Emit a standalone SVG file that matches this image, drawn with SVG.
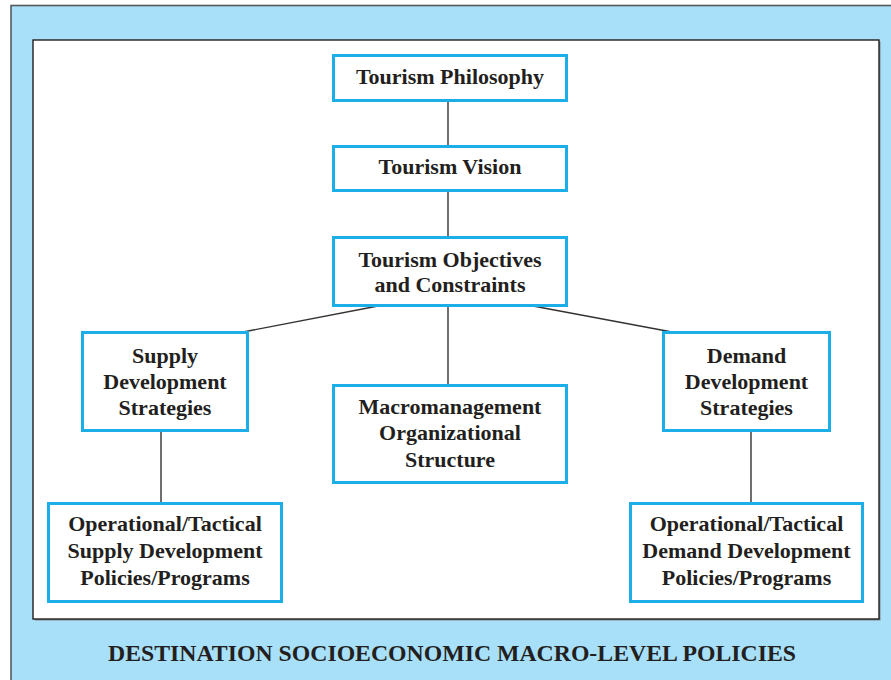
<svg xmlns="http://www.w3.org/2000/svg" width="891" height="680" viewBox="0 0 891 680">
<style>
.box{fill:#ffffff;stroke:#1BAEE8;stroke-width:3}
.t{font-family:'Liberation Serif','DejaVu Serif',serif;font-weight:bold;font-size:22px;fill:#231F20;text-anchor:middle}
.c{stroke:#333333;stroke-width:1.4;fill:none}
</style>
<rect x="11" y="5.5" width="890" height="690" fill="#A8DFF9" stroke="#58595B" stroke-width="1.6"/>
<rect x="34.5" y="41.5" width="846" height="579" fill="#7f8a90"/>
<rect x="33" y="40" width="846" height="579" fill="#ffffff" stroke="#231F20" stroke-width="1.4"/>
<g id="connectors">
<line class="c" x1="448" y1="101" x2="448" y2="146"/>
<line class="c" x1="448" y1="191" x2="448" y2="237"/>
<line class="c" x1="448" y1="306" x2="448" y2="385"/>
<line class="c" x1="378" y1="306" x2="243" y2="332"/>
<line class="c" x1="533" y1="306" x2="672" y2="332"/>
<line class="c" x1="161" y1="431" x2="161" y2="503"/>
<line class="c" x1="751" y1="431" x2="751" y2="503"/>
</g>
<g id="philosophy">
<rect class="box" x="333.5" y="55.5" width="233" height="45"/>
<text class="t" x="450" y="84">Tourism Philosophy</text>
</g>
<g id="vision">
<rect class="box" x="333.5" y="146.5" width="233" height="44"/>
<text class="t" x="450" y="174">Tourism Vision</text>
</g>
<g id="objectives">
<rect class="box" x="333.5" y="237.5" width="233" height="68"/>
<text class="t" x="450" y="266.5">Tourism Objectives</text>
<text class="t" x="450" y="291.5">and Constraints</text>
</g>
<g id="supply">
<rect class="box" x="82.5" y="332.5" width="165" height="98"/>
<text class="t" x="165" y="362.5">Supply</text>
<text class="t" x="165" y="388.5">Development</text>
<text class="t" x="165" y="414.5">Strategies</text>
</g>
<g id="macro">
<rect class="box" x="333.5" y="385.5" width="233" height="97"/>
<text class="t" x="450" y="413.5">Macromanagement</text>
<text class="t" x="450" y="440">Organizational</text>
<text class="t" x="450" y="466.5">Structure</text>
</g>
<g id="demand">
<rect class="box" x="663.5" y="332.5" width="166" height="98"/>
<text class="t" x="746.5" y="362.5">Demand</text>
<text class="t" x="746.5" y="388.5">Development</text>
<text class="t" x="746.5" y="414.5">Strategies</text>
</g>
<g id="op-supply">
<rect class="box" x="48.5" y="503.5" width="233" height="98"/>
<text class="t" x="165" y="531">Operational/Tactical</text>
<text class="t" x="165" y="558">Supply Development</text>
<text class="t" x="165" y="585">Policies/Programs</text>
</g>
<g id="op-demand">
<rect class="box" x="630.5" y="503.5" width="232" height="98"/>
<text class="t" x="746.5" y="531">Operational/Tactical</text>
<text class="t" x="746.5" y="558">Demand Development</text>
<text class="t" x="746.5" y="585">Policies/Programs</text>
</g>
<text x="108" y="661" font-family="'Liberation Serif','DejaVu Serif',serif" font-weight="bold" font-size="23" fill="#231F20" textLength="688" lengthAdjust="spacingAndGlyphs">DESTINATION SOCIOECONOMIC MACRO-LEVEL POLICIES</text>
</svg>
